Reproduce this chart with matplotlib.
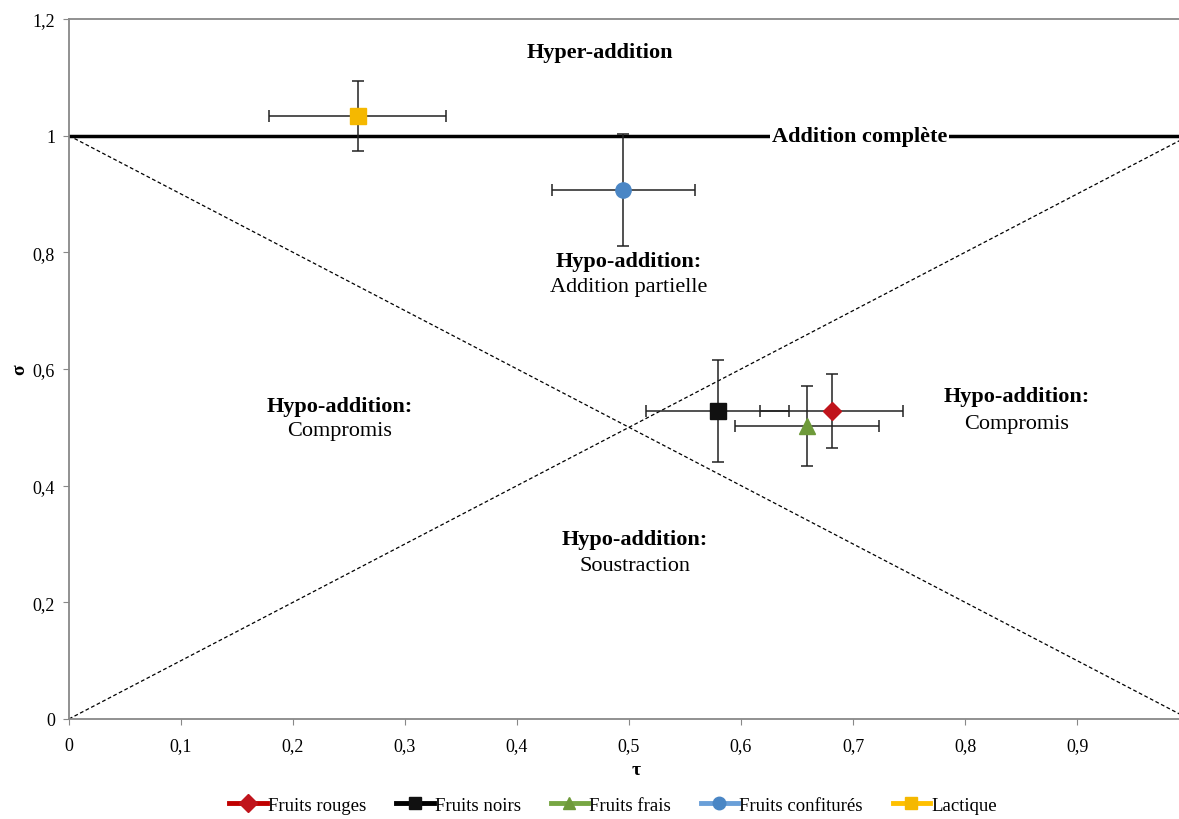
import numpy as np
import matplotlib.pyplot as plt
from matplotlib.ticker import FuncFormatter

plt.rcParams['font.family'] = ['Liberation Serif', 'DejaVu Serif']

# series: name, tau, sigma, tau error, sigma error
names = ['Fruits rouges', 'Fruits noirs', 'Fruits frais', 'Fruits confitur\u00e9s', 'Lactique']
tau = [0.681, 0.579, 0.659, 0.495, 0.258]
sigma = [0.528, 0.528, 0.502, 0.907, 1.034]
tau_err = [0.064, 0.064, 0.064, 0.064, 0.079]
sigma_err = [0.064, 0.088, 0.068, 0.096, 0.060]

marker_styles = ['D', 's', '^', 'o', 's']
marker_colors = ['#C0141C', '#111111', '#6E9A3A', '#4A86C5', '#F5B800']
line_colors = ['#C00000', '#000000', '#77A643', '#6A9FD8', '#FFC000']
marker_sizes = [9, 12, 12, 11, 12]

x_max = 0.991


def comma(v, pos):
    return ('%g' % round(v, 2)).replace('.', ',')


fig = plt.figure(figsize=(11.79, 8.2), dpi=100)
ax = fig.add_axes([0.0585, 0.122, 0.9415, 0.8536])

# reference lines
ax.plot([0, 1], [1, 1], color='black', lw=2.5, zorder=2)
ax.plot([0, 1], [1, 0], color='black', lw=0.9, ls=(0, (3, 2)), zorder=2)
ax.plot([0, 1], [0, 1], color='black', lw=0.9, ls=(0, (3, 2)), zorder=2)

handles = []
for i in range(len(names)):
    ax.errorbar(tau[i], sigma[i], xerr=tau_err[i], yerr=sigma_err[i],
                fmt='none', ecolor='#222222', elinewidth=1.1, capsize=4,
                capthick=1.1, zorder=3)
    ax.plot(tau[i], sigma[i], marker=marker_styles[i], ms=marker_sizes[i],
            mfc=marker_colors[i], mec=marker_colors[i], ls='none', zorder=4)
    h, = ax.plot([], [], color=line_colors[i], lw=3.5, marker=marker_styles[i],
                 ms=9, mfc=marker_colors[i], mec=marker_colors[i])
    handles.append(h)

# region labels
bold = dict(fontsize=16, fontweight='bold', ha='center', va='center')
normal = dict(fontsize=16, ha='center', va='center')
ax.text(0.474, 1.143, 'Hyper-addition', **bold)
ax.text(0.706, 1.0, 'Addition compl\u00e8te', zorder=5,
        bbox=dict(facecolor='white', edgecolor='none', pad=1.5), **bold)
ax.text(0.5, 0.785, 'Hypo-addition:', **bold)
ax.text(0.5, 0.742, 'Addition partielle', **normal)
ax.text(0.242, 0.537, 'Hypo-addition:', **bold)
ax.text(0.242, 0.494, 'Compromis', **normal)
ax.text(0.846, 0.554, 'Hypo-addition:', **bold)
ax.text(0.846, 0.506, 'Compromis', **normal)
ax.text(0.505, 0.308, 'Hypo-addition:', **bold)
ax.text(0.505, 0.263, 'Soustraction', **normal)

ax.set_xlim(0, x_max)
ax.set_ylim(0, 1.2)
ax.set_xticks(np.arange(0, 1.0, 0.1))
ax.set_yticks(np.arange(0, 1.21, 0.2))
ax.xaxis.set_major_formatter(FuncFormatter(comma))
ax.yaxis.set_major_formatter(FuncFormatter(comma))
ax.tick_params(labelsize=13, length=4, color='#888888', direction='out')
ax.tick_params(axis='x', pad=9)
ax.tick_params(axis='y', pad=6)
for side in ['left', 'bottom', 'top']:
    ax.spines[side].set_color('#888888')
    ax.spines[side].set_linewidth(1.3)
ax.spines['right'].set_visible(False)

ax.set_xlabel('\u03c4', fontsize=14, fontweight='bold', labelpad=5)
ax.xaxis.label.set_x(0.511)
ax.set_ylabel('\u03c3', fontsize=14, fontweight='bold', labelpad=3)

fig.legend(handles, names, loc='lower center', bbox_to_anchor=(0.52, -0.014),
           ncol=5, frameon=False, fontsize=13.5, handlelength=2.0,
           handletextpad=0.05, columnspacing=1.6)

fig.savefig('out.png', dpi=100)
